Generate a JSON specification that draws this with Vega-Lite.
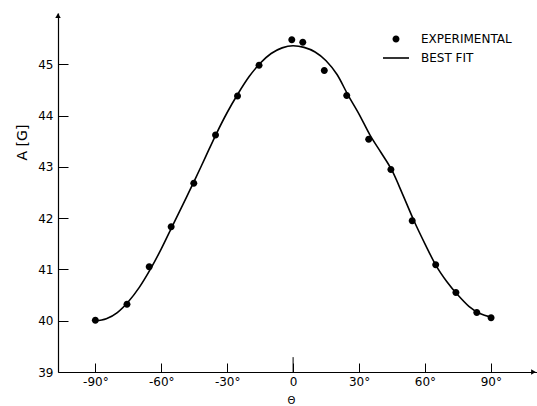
{
  "$schema": "https://vega.github.io/schema/vega-lite/v6.json",
  "width": 479,
  "height": 359,
  "autosize": {"type": "none"},
  "padding": {"left": 58, "top": 13, "right": 0, "bottom": 34},
  "config": {
    "view": {"stroke": null},
    "font": "DejaVu Sans",
    "axis": {"grid": false, "domainColor": "black", "domainWidth": 1.2, "tickColor": "black", "tickWidth": 1, "labelColor": "black", "titleColor": "black", "titleFontWeight": "normal"}
  },
  "datasets": {
    "exp": [
      {"theta": -90, "A": 40.01, "series": "EXPERIMENTAL"},
      {"theta": -75.6, "A": 40.32, "series": "EXPERIMENTAL"},
      {"theta": -65.5, "A": 41.05, "series": "EXPERIMENTAL"},
      {"theta": -55.5, "A": 41.83, "series": "EXPERIMENTAL"},
      {"theta": -45.2, "A": 42.68, "series": "EXPERIMENTAL"},
      {"theta": -35.3, "A": 43.62, "series": "EXPERIMENTAL"},
      {"theta": -25.3, "A": 44.38, "series": "EXPERIMENTAL"},
      {"theta": -15.5, "A": 44.98, "series": "EXPERIMENTAL"},
      {"theta": -0.6, "A": 45.48, "series": "EXPERIMENTAL"},
      {"theta": 4.4, "A": 45.43, "series": "EXPERIMENTAL"},
      {"theta": 14.2, "A": 44.88, "series": "EXPERIMENTAL"},
      {"theta": 24.4, "A": 44.39, "series": "EXPERIMENTAL"},
      {"theta": 34.4, "A": 43.54, "series": "EXPERIMENTAL"},
      {"theta": 44.5, "A": 42.95, "series": "EXPERIMENTAL"},
      {"theta": 54.2, "A": 41.95, "series": "EXPERIMENTAL"},
      {"theta": 64.9, "A": 41.09, "series": "EXPERIMENTAL"},
      {"theta": 74.1, "A": 40.55, "series": "EXPERIMENTAL"},
      {"theta": 83.6, "A": 40.16, "series": "EXPERIMENTAL"},
      {"theta": 90.1, "A": 40.06, "series": "EXPERIMENTAL"}
    ],
    "fit": [
      {"theta": -90, "A": 40.0},
      {"theta": -85, "A": 40.04},
      {"theta": -80, "A": 40.16},
      {"theta": -75, "A": 40.37},
      {"theta": -70, "A": 40.65},
      {"theta": -65, "A": 41.0},
      {"theta": -60, "A": 41.4},
      {"theta": -55, "A": 41.84},
      {"theta": -50, "A": 42.28},
      {"theta": -45, "A": 42.72},
      {"theta": -40, "A": 43.18},
      {"theta": -35, "A": 43.64},
      {"theta": -30, "A": 44.06},
      {"theta": -25, "A": 44.43},
      {"theta": -20, "A": 44.76},
      {"theta": -15, "A": 45.02},
      {"theta": -10, "A": 45.21},
      {"theta": -5, "A": 45.32},
      {"theta": 0, "A": 45.36},
      {"theta": 5, "A": 45.33},
      {"theta": 10, "A": 45.24},
      {"theta": 15, "A": 45.07},
      {"theta": 20, "A": 44.8},
      {"theta": 25, "A": 44.4},
      {"theta": 30, "A": 44.03},
      {"theta": 35, "A": 43.62},
      {"theta": 40, "A": 43.28},
      {"theta": 45, "A": 42.93},
      {"theta": 50, "A": 42.45},
      {"theta": 55, "A": 41.95},
      {"theta": 60, "A": 41.5},
      {"theta": 65, "A": 41.08},
      {"theta": 70, "A": 40.76},
      {"theta": 75, "A": 40.5},
      {"theta": 80, "A": 40.28},
      {"theta": 85, "A": 40.14},
      {"theta": 90, "A": 40.07}
    ]
  },
  "layer": [
    {
      "data": {"name": "fit"},
      "mark": {"type": "line", "color": "black", "strokeWidth": 1.6, "interpolate": "monotone"},
      "encoding": {
        "x": {
          "field": "theta", "type": "quantitative",
          "scale": {"domain": [-107, 111], "nice": false, "zero": false},
          "axis": {
            "values": [-90, -60, -30, 0, 30, 60, 90],
            "tickSize": -9,
            "labelPadding": 13,
            "labelFontSize": 12,
            "labelExpr": "datum.value == 0 ? '0' : datum.value + '°'",
            "title": "Θ",
            "titleFontSize": 10,
            "titleX": 233,
            "titleY": 28,
            "titleBaseline": "middle",
            "titleAlign": "center"
          }
        },
        "y": {
          "field": "A", "type": "quantitative",
          "scale": {"domain": [39, 46], "nice": false, "zero": false},
          "axis": {
            "values": [39, 40, 41, 42, 43, 44, 45],
            "tickSize": -10,
            "labelPadding": 15,
            "labelFontSize": 12,
            "title": "A [G]",
            "titleFontSize": 14,
            "titleX": -36,
            "titleY": 129,
            "titleAngle": -90,
            "titleAlign": "center",
            "titleBaseline": "middle"
          }
        }
      }
    },
    {
      "data": {"name": "exp"},
      "mark": {"type": "point", "filled": true, "color": "black", "size": 400, "opacity": 1},
      "encoding": {
        "x": {"field": "theta", "type": "quantitative"},
        "y": {"field": "A", "type": "quantitative"},
        "shape": {
          "field": "series", "type": "nominal",
          "scale": {
            "domain": ["EXPERIMENTAL", "BEST FIT"],
            "range": ["M-0.35,0A0.35,0.35,0,1,1,0.35,0A0.35,0.35,0,1,1,-0.35,0Z", "M-1.3,-0.08L1.3,-0.08L1.3,0.08L-1.3,0.08Z"]
          },
          "legend": {
            "orient": "none",
            "legendX": 328,
            "legendY": 16,
            "title": null,
            "padding": 0,
            "symbolSize": 400,
            "symbolFillColor": "black",
            "symbolStrokeWidth": 0,
            "symbolOpacity": 1,
            "labelFont": "DejaVu Sans",
            "labelFontSize": 12,
            "labelColor": "black",
            "labelOffset": 15,
            "labelLimit": 300,
            "rowPadding": 3
          }
        }
      }
    },
    {
      "data": {"values": [{"theta": 0}]},
      "mark": {"type": "rule", "color": "black", "strokeWidth": 1},
      "encoding": {
        "x": {"field": "theta", "type": "quantitative"},
        "y": {"datum": 39},
        "y2": {"datum": 39.29}
      }
    },
    {
      "data": {"values": [{"theta": -107, "A": 45.95}]},
      "mark": {"type": "point", "shape": "triangle-up", "filled": true, "color": "black", "size": 30, "opacity": 1},
      "encoding": {
        "x": {"field": "theta", "type": "quantitative"},
        "y": {"field": "A", "type": "quantitative"}
      }
    },
    {
      "data": {"values": [{"theta": 109.4, "A": 39}]},
      "mark": {"type": "point", "shape": "triangle-right", "filled": true, "color": "black", "size": 30, "opacity": 1},
      "encoding": {
        "x": {"field": "theta", "type": "quantitative"},
        "y": {"field": "A", "type": "quantitative"}
      }
    }
  ]
}
